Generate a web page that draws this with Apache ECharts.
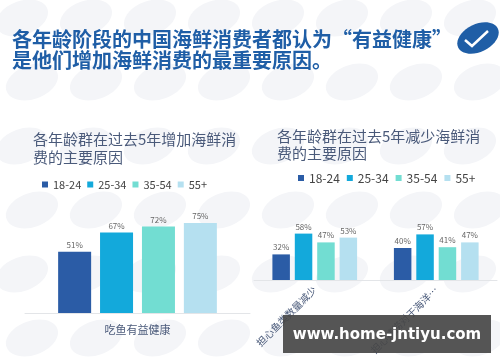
<!DOCTYPE html>
<html>
<head>
<meta charset="utf-8">
<script src="https://cdn.jsdelivr.net/npm/echarts@6/dist/echarts.min.js"></script>
<style>
html,body{margin:0;padding:0;background:#fff;}
#c{width:500px;height:362px;}
</style>
</head>
<body>
<div id="c"></div>
<script>
const ageGroups = ['18-24', '25-34', '35-54', '55+'];
const ageColors = ['#2b5ca6', '#13a9db', '#72ddd2', '#b5e0f0'];

const increaseCategories = ['吃鱼有益健康'];
const increase1824 = [51];
const increase2534 = [67];
const increase3554 = [72];
const increase55 = [75];

const decreaseCategories = ['担心鱼类数量减少', '担心捕捞对于海洋…'];
const decrease1824 = [32, 40];
const decrease2534 = [58, 57];
const decrease3554 = [47, 41];
const decrease55 = [53, 47];

const increaseValues = [increase1824, increase2534, increase3554, increase55];
const decreaseValues = [decrease1824, decrease2534, decrease3554, decrease55];

const FONT = '"Noto Sans CJK SC", "Noto Sans", sans-serif';

const chart = echarts.init(document.getElementById('c'));

// faint background watermark ovals (decoration)
const deco = [];
for (let r = 0; r < 6; r++) {
  for (let c = 0; c < 9; c++) {
    deco.push({
      type: 'ellipse',
      shape: { cx: 0, cy: 0, rx: 27, ry: 17 },
      x: 22 + c * 64 + (r % 2) * 10,
      y: 18 + r * 64,
      rotation: 0.35,
      style: { fill: '#f4f5f8' },
      silent: true,
      z: -10
    });
  }
}

const seriesList = [];
ageGroups.forEach((name, i) => {
  seriesList.push({
    name: name, type: 'bar', xAxisIndex: 0, yAxisIndex: 0,
    data: increaseValues[i], barWidth: 33, barGap: '27%',
    itemStyle: { color: ageColors[i] },
    label: { show: true, position: 'top', distance: 3, formatter: '{c}%', fontSize: 8, color: '#666', fontFamily: FONT }
  });
  seriesList.push({
    name: name, type: 'bar', xAxisIndex: 1, yAxisIndex: 1,
    data: decreaseValues[i], barWidth: 17.5, barGap: '28%',
    itemStyle: { color: ageColors[i] },
    label: { show: true, position: 'top', distance: 3, formatter: '{c}%', fontSize: 8, color: '#666', fontFamily: FONT }
  });
});

chart.setOption({
  animation: false,
  backgroundColor: '#fff',
  color: ageColors,
  textStyle: { fontFamily: FONT },
  title: [
    {
      text: '各年龄阶段的中国海鲜消费者都认为“有益健康”\n是他们增加海鲜消费的最重要原因。',
      left: 12, top: 29, padding: 0,
      textStyle: { fontSize: 20, fontWeight: 'bold', color: '#1f5ea6', lineHeight: 21, fontFamily: FONT }
    },
    {
      text: '各年龄群在过去5年增加海鲜消\n费的主要原因',
      left: 33, top: 130, padding: 0,
      textStyle: { fontSize: 15, fontWeight: 'normal', color: '#4a5a7a', lineHeight: 18, fontFamily: FONT }
    },
    {
      text: '各年龄群在过去5年减少海鲜消\n费的主要原因',
      left: 277, top: 128, padding: 0,
      textStyle: { fontSize: 15, fontWeight: 'normal', color: '#4a5a7a', lineHeight: 17, fontFamily: FONT }
    }
  ],
  legend: [
    {
      data: ageGroups, left: 42, top: 179, padding: 0, icon: 'rect', itemWidth: 6, itemHeight: 6, itemGap: 6,
      textStyle: { fontSize: 11, color: '#444', fontFamily: FONT }
    },
    {
      data: ageGroups, left: 298, top: 172, padding: 0, icon: 'rect', itemWidth: 6, itemHeight: 6, itemGap: 7,
      textStyle: { fontSize: 12, color: '#444', fontFamily: FONT }
    }
  ],
  grid: [
    { left: 25, top: 193, width: 225, height: 120 },
    { left: 254, top: 200, width: 243, height: 80 }
  ],
  xAxis: [
    {
      type: 'category', gridIndex: 0, data: increaseCategories,
      axisLine: { lineStyle: { color: '#e3e5e8' } }, axisTick: { show: false },
      axisLabel: { fontSize: 11, color: '#4a5a7a', margin: 11, fontFamily: FONT }
    },
    {
      type: 'category', gridIndex: 1, data: decreaseCategories,
      axisLine: { lineStyle: { color: '#e3e5e8' } }, axisTick: { show: false },
      axisLabel: { fontSize: 10, color: '#4a5a7a', rotate: 45, margin: 8, interval: 0, fontFamily: FONT }
    }
  ],
  yAxis: [
    { type: 'value', gridIndex: 0, min: 0, max: 100, show: false },
    { type: 'value', gridIndex: 1, min: 0, max: 100, show: false }
  ],
  series: seriesList,
  graphic: deco.concat([
    {
      type: 'ellipse', shape: { cx: 0, cy: 0, rx: 22, ry: 14 }, x: 478, y: 38, rotation: 0.45,
      style: { fill: '#1f5ea6' }, z: 10
    },
    {
      type: 'polyline', shape: { points: [[465, 40], [472, 46], [488, 31]] },
      style: { stroke: '#fff', lineWidth: 2.5, fill: null }, z: 11
    },
    {
      type: 'rect', shape: { x: 283, y: 315, width: 208, height: 38 },
      style: { fill: 'rgba(70,70,70,0.92)' }, z: 20
    },
    {
      type: 'text', x: 387, y: 335, z: 21,
      style: { text: 'www.home-jntiyu.com', fill: '#fff', fontSize: 15, fontWeight: 'bold', fontFamily: 'DejaVu Sans', align: 'center', verticalAlign: 'middle' }
    }
  ])
});
</script>
</body>
</html>
